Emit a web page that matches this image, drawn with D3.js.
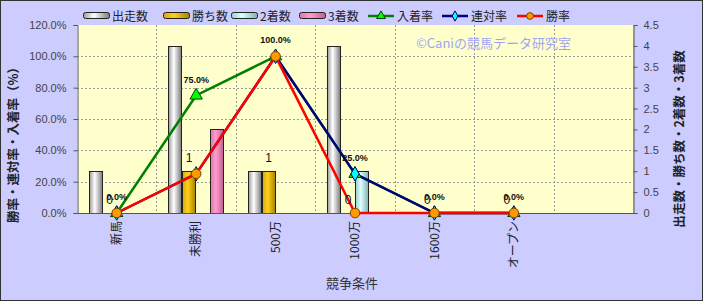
<!DOCTYPE html>
<html>
<head>
<meta charset="utf-8">
<script src="https://cdn.jsdelivr.net/npm/d3@7"></script>
<style>
  body { margin: 0; }
  text { font-family: "Noto Sans CJK JP", "Liberation Sans", sans-serif; }
</style>
</head>
<body>
<svg id="chart"></svg>
<script>
var categories = ["新馬", "未勝利", "500万", "1000万", "1600万", "オープン"];
var starts  = [1, 4, 1, 4, 0, 0];
var wins    = [0, 1, 1, 0, 0, 0];
var seconds = [0, 0, 0, 1, 0, 0];
var thirds  = [0, 2, 0, 0, 0, 0];
var placeRate  = [0, 75, 100, 25, 0, 0];
var rentaiRate = [0, 25, 100, 25, 0, 0];
var winRate    = [0, 25, 100, 0, 0, 0];
var leftTicks  = [0, 20, 40, 60, 80, 100, 120];
var rightTicks = [0, 0.5, 1, 1.5, 2, 2.5, 3, 3.5, 4, 4.5];

var width = 703, height = 301;
var plot = { left: 77, right: 633, top: 25, bottom: 213 };

var svg = d3.select("#chart")
    .attr("width", width)
    .attr("height", height);

var defs = svg.append("defs");
function gradient(id, stops) {
  var g = defs.append("linearGradient")
      .attr("id", id)
      .attr("x1", 0).attr("x2", 1).attr("y1", 0).attr("y2", 0);
  stops.forEach(s => g.append("stop").attr("offset", s[0]).attr("stop-color", s[1]));
}
gradient("g-start", [[0, "#9a9a9a"], [0.4, "#ffffff"], [1, "#7a7a7a"]]);
gradient("g-win",   [[0, "#d9a600"], [0.4, "#ffd21a"], [1, "#a88000"]]);
gradient("g-2nd",   [[0, "#99cccc"], [0.4, "#ddffff"], [1, "#7fb0b0"]]);
gradient("g-3rd",   [[0, "#dd77aa"], [0.4, "#ff9ccc"], [1, "#c06090"]]);

var barSeries = [
  { name: "出走数", values: starts,  fill: "url(#g-start)" },
  { name: "勝ち数", values: wins,    fill: "url(#g-win)" },
  { name: "2着数",  values: seconds, fill: "url(#g-2nd)" },
  { name: "3着数",  values: thirds,  fill: "url(#g-3rd)" }
];
var lineSeries = [
  { name: "入着率", values: placeRate,  color: "#008000", marker: "triangle" },
  { name: "連対率", values: rentaiRate, color: "#000080", marker: "diamond" },
  { name: "勝率",   values: winRate,    color: "#ff0000", marker: "circle" }
];

// background
svg.append("rect")
    .attr("x", 0.5).attr("y", 0.5)
    .attr("width", width - 1).attr("height", height - 1)
    .attr("fill", "#ccccff")
    .attr("stroke", "#333");

svg.append("rect")
    .attr("x", plot.left).attr("y", plot.top)
    .attr("width", plot.right - plot.left)
    .attr("height", plot.bottom - plot.top)
    .attr("fill", "#ffffcc");

var slots = d3.range(categories.length + 1);
var x = d3.scaleBand()
    .domain(slots)
    .range([plot.left, plot.right])
    .paddingInner(0.294)
    .paddingOuter(0.147);
var xInner = d3.scaleBand()
    .domain(d3.range(barSeries.length))
    .range([0, x.bandwidth()]);
var yL = d3.scaleLinear().domain([0, 120]).range([plot.bottom, plot.top]);
var yR = d3.scaleLinear().domain([0, 4.5]).range([plot.bottom, plot.top]);
var cx = i => x(i) + x.bandwidth() / 2;

// gridlines
svg.append("g")
    .selectAll("line")
    .data(leftTicks.filter(t => t > 0 && t < 120))
    .join("line")
      .attr("x1", plot.left).attr("x2", plot.right)
      .attr("y1", d => Math.round(yL(d)) + 0.5)
      .attr("y2", d => Math.round(yL(d)) + 0.5)
      .attr("stroke", "#999")
      .attr("stroke-dasharray", "2,2");

svg.append("g")
    .selectAll("line")
    .data(slots.slice(1))
    .join("line")
      .attr("x1", d => Math.round(x(d) - x.step() * 0.147) + 0.5)
      .attr("x2", d => Math.round(x(d) - x.step() * 0.147) + 0.5)
      .attr("y1", plot.top).attr("y2", plot.bottom)
      .attr("stroke", "#999")
      .attr("stroke-dasharray", "2,2");

// bars
barSeries.forEach((s, k) => {
  svg.append("g")
    .selectAll("rect")
    .data(s.values.map((v, i) => ({ v: v, i: i })).filter(d => d.v > 0))
    .join("rect")
      .attr("x", d => Math.round(x(d.i) + xInner(k)) + 0.5)
      .attr("y", d => Math.round(yR(d.v)) + 0.5)
      .attr("width", Math.round(xInner.bandwidth()) - 1)
      .attr("height", d => Math.round(plot.bottom - yR(d.v)))
      .attr("fill", s.fill)
      .attr("stroke", "#222");
});

// axes
var leftAxis = svg.append("g")
    .attr("transform", "translate(" + (plot.left + 0.5) + ",0)")
    .call(d3.axisLeft(yL).tickValues(leftTicks).tickSize(4).tickPadding(7)
      .tickFormat(d => d.toFixed(1) + "%"));
var rightAxis = svg.append("g")
    .attr("transform", "translate(" + (plot.right + 0.5) + ",0)")
    .call(d3.axisRight(yR).tickValues(rightTicks).tickSize(4).tickPadding(6)
      .tickFormat(d => d));
[leftAxis, rightAxis].forEach(a => {
  a.select(".domain").attr("stroke", "#555");
  a.selectAll(".tick line").attr("stroke", "#555");
  a.selectAll("text")
      .attr("fill", "#444")
      .style("font-family", "'Liberation Sans', sans-serif")
      .attr("font-size", 11);
});

svg.append("line")
    .attr("x1", plot.left).attr("x2", plot.right + 1)
    .attr("y1", plot.bottom + 0.5).attr("y2", plot.bottom + 0.5)
    .attr("stroke", "#555");

// category labels
svg.append("g")
    .selectAll("text")
    .data(categories)
    .join("text")
      .attr("transform", (d, i) => "translate(" + cx(i) + ",221) rotate(-90)")
      .attr("dy", "0.35em")
      .attr("text-anchor", "end")
      .attr("font-size", 12)
      .attr("fill", "#222")
      .text(d => d);

// lines and markers
var line = d3.line().x((d, i) => cx(i)).y(d => yL(d));
function drawMarker(g, type, fill, stroke, size) {
  var p;
  if (type === "triangle") p = d3.symbol(d3.symbolTriangle, size * 1.1)();
  else if (type === "diamond") p = d3.symbol(d3.symbolDiamond, size)();
  else p = d3.symbol(d3.symbolCircle, size * 1.2)();
  return g.append("path").attr("d", p).attr("fill", fill).attr("stroke", stroke);
}
var markerStyle = {
  triangle: { fill: "#00ff00", stroke: "#004000" },
  diamond:  { fill: "#00ffff", stroke: "#000060" },
  circle:   { fill: "#ff9900", stroke: "#804000" }
};

lineSeries.forEach(s => {
  svg.append("path")
      .datum(s.values)
      .attr("d", line)
      .attr("fill", "none")
      .attr("stroke", s.color)
      .attr("stroke-width", 2.5);
});
lineSeries.forEach(s => {
  s.values.forEach((v, i) => {
    var g = svg.append("g").attr("transform", "translate(" + cx(i) + "," + yL(v) + ")");
    var m = markerStyle[s.marker];
    drawMarker(g, s.marker, m.fill, m.stroke, 60);
  });
});

// data labels
svg.append("g")
    .selectAll("text")
    .data(wins)
    .join("text")
      .attr("x", (d, i) => x(i) + xInner(1) + xInner.bandwidth() / 2)
      .attr("y", d => yR(d) - 9)
      .attr("text-anchor", "middle")
      .attr("font-size", 12)
      .attr("fill", "#111")
      .style("font-family", "'Liberation Sans', sans-serif")
      .text(d => d);

svg.append("g")
    .selectAll("text")
    .data(placeRate)
    .join("text")
      .attr("x", (d, i) => cx(i))
      .attr("y", d => yL(d) - 13)
      .attr("text-anchor", "middle")
      .attr("font-size", 9)
      .attr("font-weight", "bold")
      .attr("fill", "#111")
      .style("font-family", "'Liberation Sans', sans-serif")
      .text(d => d.toFixed(1) + "%");

// watermark
svg.append("text")
    .attr("x", 416).attr("y", 48)
    .attr("font-size", 13)
    .attr("fill", "#9fa6f0")
    .text("©Caniの競馬データ研究室");

// legend
var legendX = [83, 163, 231, 299, 368, 442, 517];
var legend = svg.append("g");
barSeries.forEach((s, k) => {
  var g = legend.append("g").attr("transform", "translate(" + legendX[k] + ",16)");
  g.append("rect")
      .attr("x", 0.5).attr("y", -3.5)
      .attr("width", 26).attr("height", 6)
      .attr("rx", 2)
      .attr("fill", s.fill)
      .attr("stroke", "#222");
  g.append("text")
      .attr("x", 29).attr("dy", "0.38em")
      .attr("font-size", 12).attr("fill", "#222")
      .text(s.name);
});
lineSeries.forEach((s, k) => {
  var g = legend.append("g").attr("transform", "translate(" + legendX[k + 4] + ",16)");
  g.append("line")
      .attr("x1", 0).attr("x2", 26)
      .attr("stroke", s.color).attr("stroke-width", 2.5);
  var m = markerStyle[s.marker];
  drawMarker(g.append("g").attr("transform", "translate(13,0)"), s.marker, m.fill, m.stroke, 30);
  g.append("text")
      .attr("x", 29).attr("dy", "0.38em")
      .attr("font-size", 12).attr("fill", "#222")
      .text(s.name);
});

// axis titles
svg.append("text")
    .attr("transform", "translate(14,142) rotate(-90)")
    .attr("dy", "0.35em")
    .attr("text-anchor", "middle")
    .attr("font-size", 12.5)
    .attr("font-weight", "bold")
    .attr("fill", "#222")
    .text("勝率・連対率・入着率（%）");

svg.append("text")
    .attr("transform", "translate(680,139) rotate(-90)")
    .attr("dy", "0.35em")
    .attr("text-anchor", "middle")
    .attr("font-size", 12.5)
    .attr("font-weight", "bold")
    .attr("fill", "#222")
    .text("出走数・勝ち数・2着数・3着数");

svg.append("text")
    .attr("x", 352).attr("y", 283)
    .attr("dy", "0.35em")
    .attr("text-anchor", "middle")
    .attr("font-size", 13)
    .attr("fill", "#333")
    .text("競争条件");
</script>
</body>
</html>
